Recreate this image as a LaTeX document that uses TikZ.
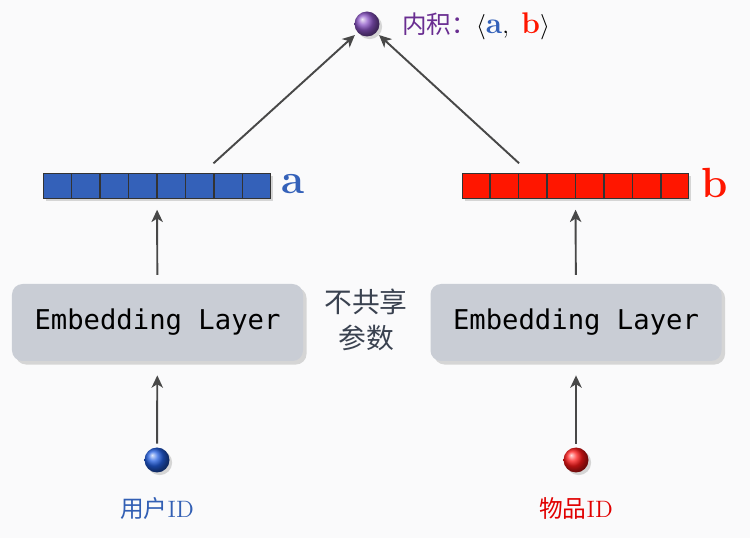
\documentclass[tikz,border=0pt]{standalone}
\usepackage{fontspec}
\newfontfamily\cjk{Noto Sans CJK SC}
\newfontfamily\embfont{DejaVu Sans Mono}
\usepackage{tikz}
\usetikzlibrary{positioning,arrows.meta,calc,shadows}
\usepackage{xcolor}
\definecolor{vecblue}{RGB}{52,97,185}
\definecolor{vecred}{RGB}{255,22,0}
\definecolor{dotpurple}{RGB}{120,55,190}
\definecolor{dotblue}{RGB}{35,95,225}
\definecolor{labpurple}{RGB}{105,45,145}
\definecolor{labblue}{RGB}{50,95,180}
\definecolor{labred}{RGB}{225,0,0}
\definecolor{boxgray}{RGB}{201,205,213}
\definecolor{arrgray}{RGB}{72,72,72}
\definecolor{notegray}{RGB}{58,66,80}
\definecolor{bggray}{RGB}{250,250,251}

\begin{document}
\begin{tikzpicture}[
  ebox/.style={rectangle,rounded corners=6pt,fill=boxgray,minimum width=5.82cm,minimum height=1.54cm,
    font=\embfont\fontsize{15.5}{18}\selectfont,
    drop shadow={opacity=0.3,shadow xshift=2pt,shadow yshift=-2pt}},
  vbox/.style={rectangle,draw=black!80,line width=0.8pt,minimum width=4.53cm,minimum height=0.5cm,
    drop shadow={opacity=0.3,shadow xshift=1.5pt,shadow yshift=-1.5pt}},
  sball/.style={circle,minimum size=0.5cm,inner sep=0pt,
    drop shadow={opacity=0.3,shadow xshift=1.5pt,shadow yshift=-1.5pt}},
  sarr/.style={-{Stealth[length=7pt,width=6.5pt,inset=2pt]},arrgray,line width=1.1pt},
  vlab/.style={font=\bfseries\fontsize{24}{24}\selectfont},
  idlab/.style={font=\fontsize{13.5}{15}\selectfont}
]
\path[use as bounding box,fill=bggray] (0,0) rectangle (15,10.76);

% inner product on top
\node[sball,ball color=dotpurple!85!white] (top) at (7.34,10.28) {};
\node[anchor=west,inner sep=0pt,font=\fontsize{14}{16}\selectfont] (toplab) at (8.04,10.24)
  {\textcolor{labpurple}{\cjk 内积：}$\langle$\textcolor{vecblue}{\fontsize{17}{17}\selectfont\textbf{a}},\enspace\textcolor{vecred}{\fontsize{17}{17}\selectfont\textbf{b}}$\rangle$};

% embedding vectors
\node[vbox,fill=vecblue] (va) at (3.14,7.04) {};
\node[vbox,fill=vecred] (vb) at (11.51,7.04) {};
\foreach \k in {1,...,7} {
  \draw[black!80,line width=0.8pt] ($(va.south west)!\k/8!(va.south east)$) -- ($(va.north west)!\k/8!(va.north east)$);
  \draw[black!80,line width=0.8pt] ($(vb.south west)!\k/8!(vb.south east)$) -- ($(vb.north west)!\k/8!(vb.north east)$);
}
\node[vlab,text=vecblue] (la) at (5.87,7.08) {a};
\node[vlab,text=vecred] (lb) at (14.3,7.1) {b};

% embedding layers
\node[ebox] (ea) at (3.15,4.31) {Embedding Layer};
\node[ebox] (eb) at (11.52,4.31) {Embedding Layer};
\node[align=center,text=notegray,font=\cjk\fontsize{15.8}{20.5}\selectfont] (note) at (7.32,4.36) {不共享\\参数};

% inputs
\node[sball,ball color=dotblue] (ua) at (3.14,1.56) {};
\node[sball,ball color=red!90!white] (ub) at (11.52,1.56) {};
\node[idlab,text=labblue] (ida) at (3.14,0.6) {{\cjk 用户}ID};
\node[idlab,text=labred] (idb) at (11.52,0.6) {{\cjk 物品}ID};

\draw[sarr,shorten <=2pt,shorten >=8pt] (ua) -- (ea);
\draw[sarr,shorten <=2pt,shorten >=8pt] (ub) -- (eb);
\draw[sarr,shorten <=5pt,shorten >=6pt] (ea) -- (va);
\draw[sarr,shorten <=5pt,shorten >=6pt] (eb) -- (vb);
\draw[sarr,shorten <=8pt,shorten >=2pt] (va.16) -- (top);
\draw[sarr,shorten <=8pt,shorten >=2pt] (vb.164) -- (top);
\end{tikzpicture}
\end{document}
